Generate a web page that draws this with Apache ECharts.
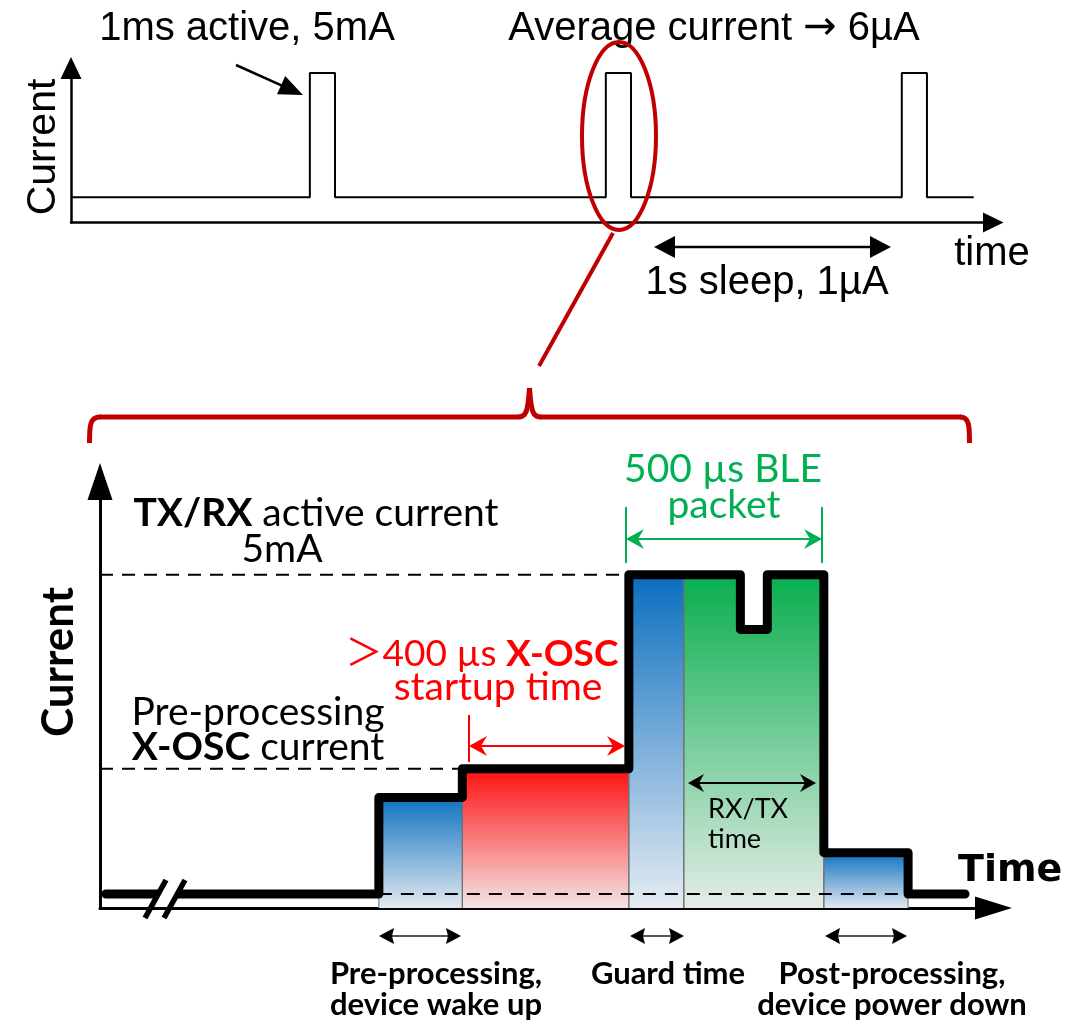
<!DOCTYPE html>
<html>
<head>
<meta charset="utf-8">
<title>BLE connection event current profile</title>
<script src="https://cdn.jsdelivr.net/npm/echarts@6/dist/echarts.min.js"></script>
<style>
  html, body { margin: 0; padding: 0; background: #ffffff; }
  #chart { width: 1070px; height: 1021px; }
</style>
</head>
<body>
<div id="chart"></div>
<script>
// ---------- Duty cycle: one short active burst per second ----------
const pulseStart = [0.807, 1.807, 2.807];   // s
const pulseEnd   = [0.892, 1.892, 2.892];   // s
const sleepCurrent  = 1;                    // schematic level
const activeCurrent = 5.93;                 // schematic level
const traceEnd = 3.05;                      // s
const cycleTimeMax = 3.116;
const cycleCurrentMax = 6.13;

// ---------- One connection event, zoomed in ----------
const phaseNames   = ['Sleep', 'Pre-processing', 'X-OSC startup', 'Guard time', 'RX/TX', 'Post-processing', 'Sleep'];
const phaseStart   = [15, 715, 929, 1356, 1497, 1856, 2072];    // µs
const phaseEnd     = [715, 929, 1356, 1497, 1856, 2072, 2218];  // µs
const phaseCurrent = [0.21, 1.66, 2.09, 5, 5, 0.83, 0.21];      // mA
const dipStart = 1642;    // µs, RX -> TX turnaround
const dipEnd = 1711;      // µs
const dipCurrent = 4.18;  // mA
const eventTimeMax = 2291;
const eventCurrentMax = 6.40;

// fill colours per phase (top colour, bottom colour)
const phaseGradient = {
  'Pre-processing':  ['#0f72c1', '#e3e9f0'],
  'X-OSC startup':   ['#ff1010', '#f3e5e7'],
  'Guard time':      ['#0a6ebf', '#e6ecf3'],
  'RX/TX':           ['#08ae4e', '#e5ece7'],
  'Post-processing': ['#1072c1', '#dfe8f1']
};

const chart = echarts.init(document.getElementById('chart'), null, { renderer: 'canvas' });

// ---------- build series data from the arrays ----------
const cycleTrace = [[0, sleepCurrent]];
pulseStart.forEach((s, i) => {
  cycleTrace.push([s, sleepCurrent], [s, activeCurrent], [pulseEnd[i], activeCurrent], [pulseEnd[i], sleepCurrent]);
});
cycleTrace.push([traceEnd, sleepCurrent]);

const profile = [];
phaseNames.forEach((name, i) => {
  const lvl = phaseCurrent[i];
  profile.push([phaseStart[i], lvl]);
  if (name === 'RX/TX') {
    profile.push([dipStart, lvl], [dipStart, dipCurrent], [dipEnd, dipCurrent], [dipEnd, lvl]);
  }
  profile.push([phaseEnd[i], lvl]);
});

function triPath(w, h) {
  return 'path://M' + (w / 2) + ',0L' + w + ',' + h + 'L0,' + h + 'Z';
}
function valueAxis(gridIndex, max, arrow, width) {
  return {
    gridIndex: gridIndex, type: 'value', min: 0, max: max,
    axisLine: {
      show: true, onZero: false,
      symbol: ['none', triPath(arrow[0], arrow[1])],
      symbolSize: arrow,
      lineStyle: { color: '#000', width: width }
    },
    axisTick: { show: false }, axisLabel: { show: false }, splitLine: { show: false }
  };
}

const series = [];
series.push({
  type: 'line', xAxisIndex: 0, yAxisIndex: 0, data: cycleTrace, showSymbol: false,
  lineStyle: { color: '#000', width: 2 }, silent: true, animation: false, z: 3
});

phaseNames.forEach((name, i) => {
  const g = phaseGradient[name];
  if (!g) return;
  const lvl = phaseCurrent[i];
  const pts = [[phaseStart[i], 0], [phaseStart[i], lvl]];
  if (name === 'RX/TX') {
    pts.push([dipStart, lvl], [dipStart, dipCurrent], [dipEnd, dipCurrent], [dipEnd, lvl]);
  }
  pts.push([phaseEnd[i], lvl], [phaseEnd[i], 0]);
  series.push({
    type: 'line', name: name, xAxisIndex: 1, yAxisIndex: 1, data: pts, showSymbol: false,
    silent: true, animation: false, z: 1,
    lineStyle: { color: '#6e6e6e', width: 1 },
    areaStyle: {
      opacity: 1,
      color: new echarts.graphic.LinearGradient(0, 0, 0, 1, [
        { offset: 0, color: g[0] }, { offset: 1, color: g[1] }
      ])
    }
  });
});

// dashed reference levels
const refLines = [
  [[0, phaseCurrent[3]], [phaseStart[3], phaseCurrent[3]]],
  [[0, phaseCurrent[2]], [phaseStart[2], phaseCurrent[2]]],
  [[phaseStart[1], phaseCurrent[0]], [phaseEnd[5], phaseCurrent[0]]]
];
refLines.forEach(d => {
  series.push({
    type: 'line', xAxisIndex: 1, yAxisIndex: 1, data: d, showSymbol: false,
    silent: true, animation: false, z: 2,
    lineStyle: { color: '#000', width: 2, type: [13, 9] }
  });
});

series.push({
  type: 'line', xAxisIndex: 1, yAxisIndex: 1, data: profile, showSymbol: false,
  silent: true, animation: false, z: 3,
  lineStyle: { color: '#000', width: 9, cap: 'round', join: 'round' }
});

// ---------- annotations ----------
const G = [];
function txt(x, y, text, font, fill, extra) {
  const el = {
    type: 'text', x: x, y: y, z: 100, silent: true,
    style: Object.assign({ text: text, font: font, fill: fill || '#000', align: 'center', verticalAlign: 'middle' }, extra || {})
  };
  G.push(el);
  return el;
}
function head(tx, ty, ang, len, half, notch, color) {
  const c = Math.cos(ang), s = Math.sin(ang);
  const bx = tx - len * c, by = ty - len * s;
  const nx = -s, ny = c;
  G.push({
    type: 'polygon', z: 100, silent: true,
    shape: { points: [[tx, ty], [bx + half * nx, by + half * ny], [tx - (len - notch) * c, ty - (len - notch) * s], [bx - half * nx, by - half * ny]] },
    style: { fill: color }
  });
}
function seg(x1, y1, x2, y2, color, w) {
  G.push({ type: 'line', z: 100, silent: true, shape: { x1: x1, y1: y1, x2: x2, y2: y2 }, style: { stroke: color, lineWidth: w } });
}
function curve(x1, y1, c1x, c1y, c2x, c2y, x2, y2, color, w) {
  G.push({ type: 'bezierCurve', z: 100, silent: true,
    shape: { x1: x1, y1: y1, cpx1: c1x, cpy1: c1y, cpx2: c2x, cpy2: c2y, x2: x2, y2: y2 },
    style: { fill: 'none', stroke: color, lineWidth: w } });
}
function dbl(x1, x2, y, color, shaft, w, len, half, notch) {
  seg(x1 + len * 0.5, y, x2 - len * 0.5, y, shaft, w);
  head(x2, y, 0, len, half, notch, color);
  head(x1, y, Math.PI, len, half, notch, color);
}

const ARIAL = '"Liberation Sans", Arial, sans-serif';
const CAL = 'Lato, "Noto Sans CJK SC", sans-serif';

// top panel texts
txt(247, 29, '1ms active, 5mA', '40px ' + ARIAL);
txt(714, 29, 'Average current {a|\u2192} 6\u00b5A', '40px ' + ARIAL, '#000',
  { rich: { a: { fontSize: 40, fontFamily: '"DejaVu Sans", sans-serif', fill: '#000' } } });
txt(992, 254, 'time', '40px ' + ARIAL);
txt(767, 283, '1s sleep, 1\u00b5A', '40px ' + ARIAL);
G.push({ type: 'text', x: 44, y: 147, rotation: Math.PI / 2, z: 100, silent: true,
  style: { text: 'Current', font: '41px ' + ARIAL, fill: '#000', align: 'center', verticalAlign: 'middle' } });

// arrow to the first burst
(function () {
  const x1 = 236, y1 = 65, x2 = 303, y2 = 95;
  const a = Math.atan2(y2 - y1, x2 - x1);
  seg(x1, y1, x2 - 20 * Math.cos(a), y2 - 20 * Math.sin(a), '#000', 2.5);
  head(x2, y2, a, 24, 10, 0, '#000');
})();
// sleep interval arrow
dbl(654, 891, 247, '#000', '#000', 2.5, 21, 11, 0);

// zoom callout
const RED = '#c00000';
G.push({ type: 'ellipse', z: 100, silent: true, shape: { cx: 619, cy: 136, rx: 37, ry: 94 },
  style: { fill: 'none', stroke: RED, lineWidth: 4 } });
seg(613, 233, 539, 366, RED, 4);
curve(89.5, 443, 89.5, 425, 90, 417, 100, 417, RED, 5);
seg(99, 417, 519, 417, RED, 5);
curve(518, 417, 526, 417, 528, 412, 529.5, 388, RED, 5);
curve(529.5, 388, 531, 412, 533, 417, 541, 417, RED, 5);
seg(540, 417, 961, 417, RED, 5);
curve(960, 417, 969, 417, 969.5, 425, 969.5, 443, RED, 5);

// bottom panel texts
txt(316, 513, '{b|TX/RX} active current', '39px ' + CAL, '#000',
  { rich: { b: { fontWeight: 'bold', fontSize: 39, fontFamily: CAL, fill: '#000' } } });
txt(282, 549, '5mA', '39px ' + CAL);
txt(258, 712, 'Pre-processing', '39px ' + CAL);
txt(258, 747, '{b|X-OSC} current', '39px ' + CAL, '#000',
  { rich: { b: { fontWeight: 'bold', fontSize: 39, fontFamily: CAL, fill: '#000' } } });
txt(482, 654, '\uff1e400 \u00b5s {b|X-OSC}', '37px ' + CAL, '#ff0000',
  { rich: { b: { fontWeight: 'bold', fontSize: 37, fontFamily: CAL, fill: '#ff0000' } } });
txt(498, 687, 'startup time', '39px ' + CAL, '#ff0000');
txt(723, 469, '500 \u00b5s BLE', '39px ' + CAL, '#00b050');
txt(724, 505, 'packet', '39px ' + CAL, '#00b050');
txt(708, 809, 'RX/TX', '27px ' + CAL, '#000', { align: 'left' });
txt(708, 839, 'time', '27px ' + CAL, '#000', { align: 'left' });
txt(958, 871, 'Time', 'bold 38px "DejaVu Sans", sans-serif', '#000', { align: 'left' });
G.push({ type: 'text', x: 59, y: 662, rotation: Math.PI / 2, z: 100, silent: true,
  style: { text: 'Current', font: 'bold 44px ' + CAL, fill: '#000', align: 'center', verticalAlign: 'middle' } });

const BOLD = 'bold 31px ' + CAL;
txt(436, 974, 'Pre-processing,', BOLD);
txt(436, 1005, 'device wake up', BOLD);
txt(668, 974, 'Guard time', BOLD);
txt(892, 974, 'Post-processing,', BOLD);
txt(892, 1005, 'device power down', BOLD);

// dimension arrows
dbl(626, 822, 539, '#00b050', '#00b050', 2, 18, 10, 6);
seg(626, 507, 626, 563, '#00b050', 2);
seg(822, 507, 822, 563, '#00b050', 2);
dbl(469, 625, 746, '#ff0000', '#ff0000', 2, 18, 10, 6);
seg(469, 715, 469, 762, '#ff0000', 2);
dbl(688, 816, 783, '#000', '#000', 2, 16, 9, 5);
dbl(379, 461, 936, '#000', '#555', 2, 15, 8, 2);
dbl(630, 684, 936, '#000', '#555', 2, 15, 8, 2);
dbl(825, 907, 936, '#000', '#555', 2, 15, 8, 2);

// axis break on the sleep baseline
G.push({ type: 'polygon', z: 99, silent: true,
  shape: { points: [[153, 903], [162, 885], [182, 885], [173, 903]] }, style: { fill: '#fff' } });
seg(145, 918, 166, 880, '#000', 5.5);
seg(164, 918, 185, 880, '#000', 5.5);

chart.setOption({
  backgroundColor: '#ffffff',
  animation: false,
  grid: [
    { left: 71, top: 68, width: 922.25, height: 154.5 },
    { left: 100, top: 481.5, width: 893.5, height: 426.5 }
  ],
  xAxis: [
    valueAxis(0, cycleTimeMax, [20, 20.5], 2.5),
    valueAxis(1, eventTimeMax, [23, 37], 3)
  ],
  yAxis: [
    valueAxis(0, cycleCurrentMax, [21, 22], 2.5),
    valueAxis(1, eventCurrentMax, [25, 37], 3)
  ],
  series: series,
  graphic: { elements: G }
});
</script>
</body>
</html>
